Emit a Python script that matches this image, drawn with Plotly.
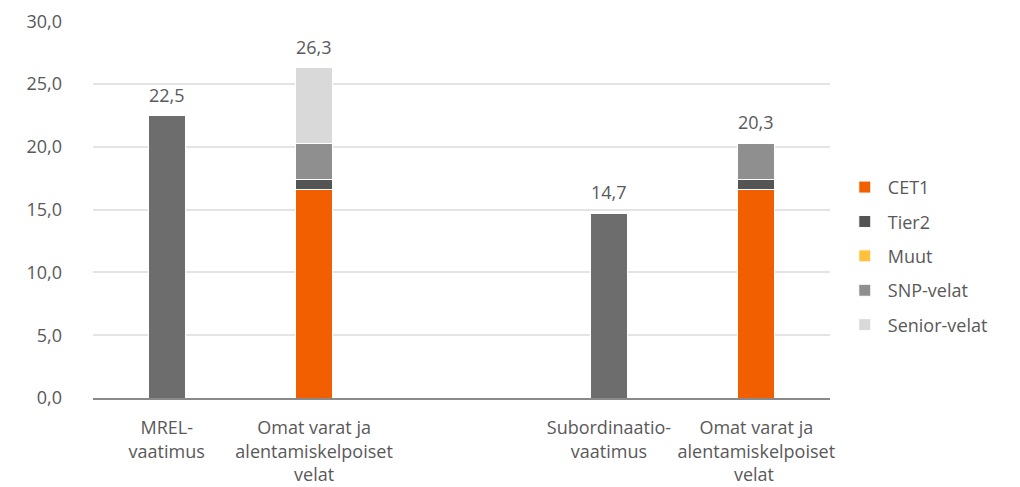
import plotly.graph_objects as go

# 데이터
categories = [
    "MREL-<br>vaatimus",
    "Omat varat ja<br>alentamiskelpoiset<br>velat",
    " ",
    "Subordinaatio-<br>vaatimus",
    "Omat varat ja<br>alentamiskelpoiset<br>velat ",
]
requirement = [22.5, None, None, 14.7, None]
cet1 = [None, 16.6, None, None, 16.6]
tier2 = [None, 0.8, None, None, 0.8]
muut = [None, 0.0, None, None, 0.0]
snp = [None, 2.9, None, None, 2.9]
senior = [None, 6.0, None, None, None]
totals = [22.5, 26.3, None, 14.7, 20.3]

series = [
    ("CET1", cet1, "#f15f00"),
    ("Tier2", tier2, "#545454"),
    ("Muut", muut, "#ffc13b"),
    ("SNP-velat", snp, "#8f8f8f"),
    ("Senior-velat", senior, "#d9d9d9"),
]

font_family = "'Open Sans', sans-serif"
text_color = "#595959"
fs = 18

fig = go.Figure()

fig.add_trace(
    go.Bar(
        x=categories,
        y=requirement,
        name="Vaatimus",
        marker=dict(color="#6d6d6d", line=dict(color="white", width=1)),
        showlegend=False,
    )
)

for name, vals, color in series:
    fig.add_trace(
        go.Bar(
            x=categories,
            y=vals,
            name=name,
            legendgroup=name,
            marker=dict(color=color, line=dict(color="white", width=1)),
        )
    )

# 합계 라벨
for cat, v in zip(categories, totals):
    if v is None:
        continue
    fig.add_annotation(
        x=cat,
        y=v,
        text=f"{v:.1f}".replace(".", ","),
        showarrow=False,
        yanchor="bottom",
        yshift=7,
        font=dict(size=fs, color=text_color, family=font_family),
    )

fig.update_layout(
    width=1020,
    height=487,
    barmode="stack",
    bargap=0.75,
    separators=",.",
    plot_bgcolor="white",
    paper_bgcolor="white",
    font=dict(family=font_family, size=fs, color=text_color),
    margin=dict(l=85, r=198, t=13, b=97),
    legend=dict(
        x=1.016,
        y=0.377,
        xanchor="left",
        yanchor="middle",
        traceorder="grouped",
        font=dict(size=fs, color=text_color),
        tracegroupgap=8,
        itemwidth=36,
    ),
)

fig.update_yaxes(
    range=[0, 30.03],
    tickvals=[0, 5, 10, 15, 20, 25, 30],
    tickformat=".1f",
    showgrid=True,
    gridcolor="#e4e4e4",
    gridwidth=1.5,
    zeroline=False,
    ticks="",
    ticklabelstandoff=30,
    ticklabeloverflow="allow",
    automargin=False,
    tickfont=dict(size=fs, color=text_color),
)
fig.update_xaxes(
    showline=True,
    linecolor="#8a8a8a",
    linewidth=1.5,
    ticks="",
    ticklabelstandoff=13,
    automargin=False,
    tickfont=dict(size=fs, color=text_color),
)

fig.write_html("out.html")
